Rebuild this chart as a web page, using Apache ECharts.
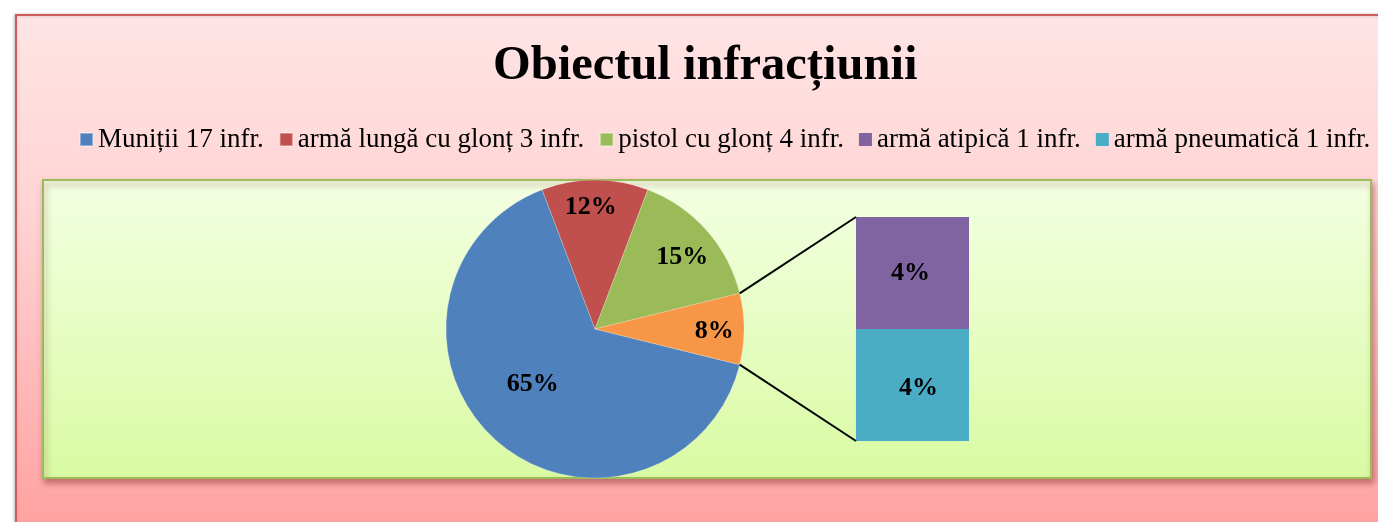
<!DOCTYPE html>
<html>
<head>
<meta charset="utf-8">
<title>Obiectul infracțiunii</title>
<script src="https://cdn.jsdelivr.net/npm/echarts@6/dist/echarts.min.js"></script>
<style>
  html, body { margin: 0; padding: 0; background: #fff; }
  #chart { width: 1378px; height: 522px; }
</style>
</head>
<body>
<div id="chart"></div>
<script>
  // main pie slices
  const mainNames = ['Muniții 17 infr.', 'armă lungă cu glonț 3 infr.', 'pistol cu glonț 4 infr.']
  const mainValues = [17, 3, 4]
  // slices moved into the secondary bar
  const subNames = ['armă atipică 1 infr.', 'armă pneumatică 1 infr.']
  const subValues = [1, 1]
  const otherName = 'Altele'

  const mainColors = ['#4f81bd', '#c0504d', '#9bbb59']
  const otherColor = '#f79646'
  const subColors = ['#8064a2', '#4bacc6']

  const FONT = "'Liberation Serif', 'Times New Roman', serif"
  const CX = 595, CY = 329, R = 149
  const bar = {left: 856, top: 217, width: 113, height: 224}
  // radial position (fraction of radius) and angular nudge for the pie labels
  const labelTweak = [{f: 0.54, turn: -7}, {f: 0.8, turn: 2}, {f: 0.74, turn: -2}, {f: 0.78, turn: -1}]

  const subTotal = subValues.reduce((a, b) => a + b, 0)
  const pieValues = mainValues.concat([subTotal])
  const total = pieValues.reduce((a, b) => a + b, 0)
  const pct = v => Math.round(v / total * 100) + '%'

  // "other" slice centred on 3 o'clock, like Excel's pie of pie
  const otherDeg = subTotal / total * 360
  const startAngle = -otherDeg / 2

  function sliceMid(i) {
    let cum = 0
    for (let k = 0; k < i; k++) cum += pieValues[k]
    return startAngle - (cum + pieValues[i] / 2) / total * 360
  }

  const chart = echarts.init(document.getElementById('chart'))

  const pieData = pieValues.map((v, i) => ({
    name: i < mainNames.length ? mainNames[i] : otherName,
    value: v,
    itemStyle: {color: i < mainNames.length ? mainColors[i] : otherColor}
  }))

  // bottom of the stack first
  const barSeries = subNames.map((n, i) => ({
    name: n,
    type: 'bar',
    stack: 'sub',
    data: [subValues[i]],
    barWidth: '100%',
    itemStyle: {color: subColors[i]},
    label: {
      show: true,
      position: 'inside',
      formatter: p => pct(p.value),
      fontFamily: FONT,
      fontWeight: 'bold',
      fontSize: 26,
      color: '#000',
      offset: i === 0 ? [-2, 0] : [6, 3]
    }
  })).reverse()

  // connector lines from the edges of the "other" slice to the ends of the bar
  // (the value axis runs 0..subTotal over the grid, so the ends are its top and bottom)
  const aTop = otherDeg / 2 * Math.PI / 180
  const aBot = -otherDeg / 2 * Math.PI / 180
  const connectors = [
    {x1: CX + R * Math.cos(aTop), y1: CY - R * Math.sin(aTop), x2: bar.left, y2: bar.top},
    {x1: CX + R * Math.cos(aBot), y1: CY - R * Math.sin(aBot), x2: bar.left, y2: bar.top + bar.height}
  ]

  chart.setOption({
    animation: false,
    title: {
      text: 'Obiectul infracțiunii',
      left: 488,
      top: 37,
      z: 10,
      textStyle: {fontFamily: FONT, fontSize: 48.5, fontWeight: 'bold', color: '#000'}
    },
    legend: {
      data: mainNames.concat(subNames),
      left: 79,
      top: 126,
      padding: 0,
      icon: 'rect',
      itemWidth: 13,
      itemHeight: 13,
      itemGap: 15,
      z: 10,
      textStyle: {fontFamily: FONT, fontSize: 27, color: '#000'}
    },
    grid: {left: bar.left, top: bar.top, width: bar.width, height: bar.height},
    xAxis: {type: 'category', data: ['sub'], show: false},
    yAxis: {type: 'value', min: 0, max: subTotal, show: false},
    graphic: [
      {
        type: 'rect', z: 0,
        shape: {x: 16, y: 15, width: 1400, height: 530},
        style: {
          fill: {type: 'linear', x: 0, y: 0, x2: 0, y2: 1, colorStops: [
            {offset: 0, color: '#ffe4e5'}, {offset: 0.35, color: '#ffd5d5'}, {offset: 1, color: '#ff9f9e'}
          ]},
          stroke: '#cf5a5a', lineWidth: 2,
          shadowBlur: 3, shadowColor: 'rgba(0,0,0,0.2)', shadowOffsetX: -1
        }
      },
      {
        type: 'rect', z: 1,
        shape: {x: 43, y: 180, width: 1328, height: 298},
        style: {
          fill: {type: 'linear', x: 0, y: 0, x2: 0, y2: 1, colorStops: [
            {offset: 0, color: '#f3ffe3'}, {offset: 1, color: '#d9fba3'}
          ]},
          stroke: '#9bbb59', lineWidth: 2,
          shadowBlur: 6, shadowColor: 'rgba(120,40,40,0.45)', shadowOffsetX: 2, shadowOffsetY: 4
        }
      }
    ].concat(connectors.map(s => ({
      type: 'line', z: 20, shape: s, style: {stroke: '#000', lineWidth: 2}
    }))),
    series: [
      {
        type: 'pie',
        center: [CX, CY],
        radius: R,
        startAngle: startAngle,
        clockwise: true,
        silent: true,
        data: pieData,
        itemStyle: {borderColor: 'rgba(255,255,255,0.35)', borderWidth: 0.6},
        label: {
          show: true,
          position: 'inside',
          formatter: p => pct(p.value),
          fontFamily: FONT,
          fontWeight: 'bold',
          fontSize: 26,
          color: '#000'
        },
        labelLine: {show: false},
        labelLayout: function (p) {
          const i = p.dataIndex
          const t = labelTweak[i]
          const a0 = sliceMid(i) * Math.PI / 180
          const a1 = (sliceMid(i) + t.turn) * Math.PI / 180
          return {
            dx: R * (t.f * Math.cos(a1) - 0.5 * Math.cos(a0)),
            dy: -R * (t.f * Math.sin(a1) - 0.5 * Math.sin(a0))
          }
        }
      }
    ].concat(barSeries)
  })
</script>
</body>
</html>
